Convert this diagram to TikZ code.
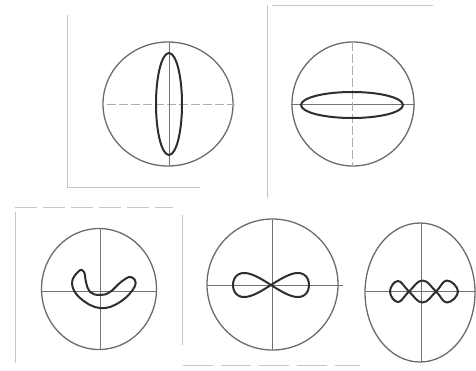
\documentclass[tikz,border=0pt]{standalone}
\usetikzlibrary{calc}

\tikzset{
    dial/.style={draw=black!58, line width=1.3pt},
    axisline/.style={draw=black!55, line width=0.8pt},
    faintaxis/.style={draw=black!32, line width=0.7pt, dash pattern=on 9pt off 3pt},
    trace/.style={draw=black!82, line width=2pt, line join=round},
    sheet/.style={draw=black!22, line width=0.8pt},
}

\begin{document}
\begin{tikzpicture}[x=1pt, y=-1pt]
    \useasboundingbox (0,0) rectangle (476,370);

    % edges of the pasted prints
    \draw[sheet] (67,15) -- (67,187) -- (200,187);
    \draw[sheet] (267,5) -- (267,198);
    \draw[sheet] (272,5) -- (433,5);
    \draw[sheet, dash pattern=on 22pt off 6pt] (15,207) -- (173,207);
    \draw[sheet] (15,212) -- (15,363);
    \draw[sheet] (182,215) -- (182,345);
    \draw[sheet, dash pattern=on 30pt off 8pt] (183,365) -- (360,365);

    % top left: tall ellipse
    \coordinate (dialA) at (168,104);
    \draw[dial] (dialA) ellipse [x radius=65, y radius=62];
    \draw[faintaxis] (107,104) -- (235,104);
    \draw[axisline] (169,42) -- (169,166);
    \draw[trace] (169,104) ellipse [x radius=13, y radius=51];

    % top right: flat ellipse
    \coordinate (dialB) at (353,104);
    \draw[dial] (dialB) ellipse [x radius=61, y radius=62];
    \draw[axisline] (291,104) -- (415,104);
    \draw[faintaxis] (352,42) -- (352,166);
    \draw[trace] (352,105) ellipse [x radius=51, y radius=13];

    % bottom left: bent loop
    \coordinate (dialC) at (99,289);
    \draw[dial] (dialC) ellipse [x radius=57.5, y radius=60.5];
    \draw[axisline] (42,291.5) -- (157,291.5);
    \draw[axisline] (100,228) -- (100,350);
    \draw[trace] plot[smooth cycle, tension=0.7] coordinates {
        (79,271) (72,283) (80,298) (100,308) (120,302) (135,286)
        (131,277) (121,282) (110,292) (100,295) (90,292) (86,282) (84,272)};

    % bottom middle: figure eight
    \coordinate (dialD) at (272.5,284.5);
    \draw[dial] (dialD) ellipse [x radius=65.5, y radius=65.5];
    \draw[axisline] (207,285) -- (343,285);
    \draw[axisline] (272,219) -- (272,350);
    \draw[trace] plot[smooth, domain=0:360, samples=90]
        ({271+38*sin(\x)}, {285+12*sin(2*\x)});

    % bottom right: three loops
    \coordinate (dialE) at (420,292.5);
    \draw[dial] (dialE) ellipse [x radius=55, y radius=69.5];
    \draw[axisline] (365,291.5) -- (476,291.5);
    \draw[axisline] (421.5,223) -- (421.5,362);
    \draw[trace] plot[smooth cycle, tension=0.75] coordinates {
        (390,291.5) (398,281) (409,291.5) (422.5,302.5) (436,291.5)
        (447,280.5) (458,291.5) (447,302.5) (436,291.5) (422.5,280.5)
        (409,291.5) (398,302)};
\end{tikzpicture}
\end{document}
